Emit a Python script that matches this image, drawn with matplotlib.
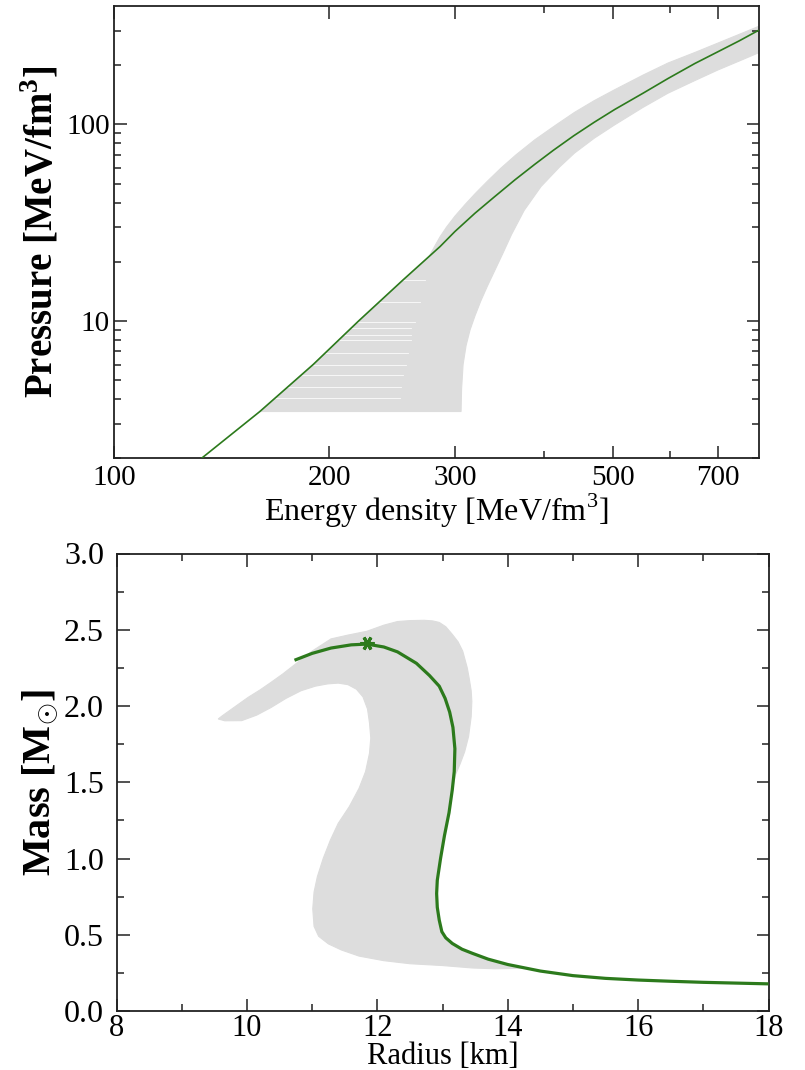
import numpy as np
import matplotlib
matplotlib.use('Agg')
import matplotlib.pyplot as plt
from matplotlib.patches import Polygon
from matplotlib.ticker import FixedLocator, NullFormatter, FixedFormatter, MultipleLocator, FormatStrFormatter

plt.rcParams['font.family'] = ['Liberation Serif', 'DejaVu Serif']
plt.rcParams['mathtext.fontset'] = 'custom'
plt.rcParams['mathtext.rm'] = 'Liberation Serif'
plt.rcParams['mathtext.bf'] = 'Liberation Serif:bold'

# ---------------- data: EOS (top panel) ----------------
eos_energy = [132.6, 160, 190, 220, 254, 286, 300, 320, 340, 364, 388, 412, 440, 470, 502,
              550, 596, 650, 700, 750, 797]
eos_pressure = [2.0, 3.46, 6.0, 10.0, 16.2, 23.9, 28.5, 35.3, 42.5, 52.2, 62.6, 73.8, 87.5,
                102.5, 119, 144, 171, 204, 234, 266, 300]

# envelope of the grey family of EOS: lower/right edge ...
band_lower_e = [160, 306, 306.5, 308, 311, 315, 320, 326, 333, 341, 350, 360, 375, 396,
                420, 441, 470, 502, 550, 596, 650, 700, 750, 800]
band_lower_p = [3.46, 3.46, 4.5, 6.0, 7.5, 9.0, 10.6, 12.6, 15.0, 18.0, 22.0, 27.5, 36.5, 48.3,
                60.5, 71.4, 85, 99.4, 122, 144, 167, 189, 210, 232]
# ... and upper edge (from the right border back to the green curve)
band_upper_e = [800, 750, 700, 650, 596, 550, 502, 470, 441, 415, 388, 365, 348, 333, 320,
                310, 300, 292, 286, 282, 276]
band_upper_p = [316, 287, 259, 232, 205, 178, 150, 132, 115, 99, 83.4, 69.8, 59.9, 51.3, 44.3,
                39.1, 34.1, 30, 26.8, 24.5, 21.2]

# visible gaps between plateau (phase transition) lines
plateau_p = [16.2, 12.5, 9.92, 9.18, 8.49, 8.0, 6.9, 5.97, 5.3, 4.63, 4.05]
plateau_end_e = [272, 268, 263.6, 260.4, 260.4, 260.4, 258, 256.6, 254, 252.5, 251]

# ---------------- data: mass-radius (bottom panel) ----------------
mr_radius = [18.0, 17.5, 17.0, 16.5, 16.0, 15.5, 15.0, 14.5, 14.0, 13.7, 13.46, 13.3, 13.15,
             13.05, 12.99, 12.95, 12.92, 12.91, 12.92, 12.97, 13.03, 13.1, 13.15, 13.18, 13.19,
             13.16, 13.11, 13.04, 12.95, 12.8, 12.6, 12.31, 12.1, 11.84, 11.6, 11.29, 11.0, 10.73]
mr_mass = [0.178, 0.183, 0.188, 0.195, 0.203, 0.214, 0.232, 0.262, 0.305, 0.34, 0.378, 0.405,
           0.443, 0.48, 0.52, 0.596, 0.68, 0.77, 0.857, 1.0, 1.15, 1.3, 1.45, 1.57, 1.72,
           1.86, 1.96, 2.05, 2.13, 2.2, 2.28, 2.355, 2.387, 2.406, 2.401, 2.38, 2.345, 2.30]
max_radius = 11.84
max_mass = 2.41

mr_band_r = [9.56, 9.66, 9.92, 10.15, 10.37, 10.6, 10.83, 11.05, 11.24, 11.4, 11.55, 11.68,
             11.78, 11.85, 11.88, 11.9, 11.88, 11.82, 11.72, 11.57, 11.40, 11.28, 11.17, 11.08,
             11.03, 11.01, 11.03, 11.1, 11.25, 11.45, 11.72, 12.1, 12.5, 13.0, 13.46, 13.8,
             14.1, 14.3,
             14.0, 13.7, 13.46, 13.3, 13.15, 13.05, 12.99, 12.95, 12.92, 12.91, 12.92, 12.97,
             13.03, 13.1, 13.15, 13.2,
             13.27, 13.34, 13.4, 13.44, 13.45, 13.44, 13.41, 13.38, 13.31, 13.24, 13.15, 13.05,
             12.95, 12.85, 12.72, 12.5, 12.31, 12.1, 11.84, 11.55, 11.29, 11.0, 10.73, 10.55,
             10.37, 10.2, 10.02, 9.8, 9.62]
mr_band_m = [1.915, 1.903, 1.904, 1.94, 1.99, 2.05, 2.10, 2.13, 2.145, 2.15, 2.14, 2.11,
             2.06, 1.98, 1.89, 1.79, 1.69, 1.57, 1.46, 1.34, 1.23, 1.12, 1.00, 0.88,
             0.78, 0.67, 0.555, 0.49, 0.44, 0.40, 0.36, 0.33, 0.31, 0.298, 0.282, 0.277,
             0.279, 0.281,
             0.305, 0.34, 0.378, 0.405, 0.443, 0.48, 0.52, 0.596, 0.68, 0.77, 0.857, 1.0,
             1.15, 1.3, 1.45, 1.55,
             1.62, 1.7, 1.8, 1.93, 2.03, 2.10, 2.18, 2.25, 2.36, 2.42, 2.47, 2.52,
             2.548, 2.558, 2.562, 2.56, 2.554, 2.53, 2.49, 2.465, 2.44, 2.36, 2.27, 2.21,
             2.155, 2.105, 2.057, 1.99, 1.935]

GREY = '#dddddd'
GREEN = '#2c7a1c'

fig = plt.figure(figsize=(8.05, 10.7), dpi=100)
W, H = 805.0, 1070.0
ax1 = fig.add_axes([114 / W, 1 - 458.3 / H, (759.3 - 114) / W, (458.3 - 6) / H])
ax2 = fig.add_axes([116.5 / W, 1 - 1011 / H, (768.5 - 116.5) / W, (1011 - 553.5) / H])

# ---------------- top panel ----------------
ax1.set_xscale('log')
ax1.set_yscale('log')
ax1.set_xlim(100, 800)
ax1.set_ylim(2, 400)

ge = np.array(eos_energy)
gp = np.array(eos_pressure)
sel = (ge >= band_lower_e[0]) & (ge < band_upper_e[-1])
poly_e = list(band_lower_e) + list(band_upper_e) + list(ge[sel][::-1])
poly_p = list(band_lower_p) + list(band_upper_p) + list(gp[sel][::-1])
band1 = Polygon(np.column_stack([poly_e, poly_p]), closed=True, facecolor=GREY,
                edgecolor=GREY, lw=0.8, zorder=1)
ax1.add_patch(band1)
for p, e_end in zip(plateau_p, plateau_end_e):
    ln, = ax1.plot([100, e_end], [p, p], color='white', lw=0.6, alpha=0.9, zorder=2)
    ln.set_clip_path(band1)

ax1.plot(eos_energy, eos_pressure, color=GREEN, lw=1.2, zorder=3)

ax1.xaxis.set_major_locator(FixedLocator([100, 200, 300, 500, 700]))
ax1.xaxis.set_major_formatter(FixedFormatter(['100', '200', '300', '500', '700']))
ax1.xaxis.set_minor_locator(FixedLocator([400, 600]))
ax1.xaxis.set_minor_formatter(NullFormatter())
ax1.yaxis.set_major_locator(FixedLocator([10, 100]))
ax1.yaxis.set_major_formatter(FixedFormatter(['10', '100']))
ax1.yaxis.set_minor_locator(FixedLocator([2, 3, 4, 5, 6, 7, 8, 9, 20, 30, 40, 50, 60, 70, 80, 90, 200, 300]))
ax1.yaxis.set_minor_formatter(NullFormatter())
ax1.set_xlabel('Energy density [MeV/fm$^{3}$]', fontsize=23)
ax1.set_ylabel('Pressure [MeV/fm$^{\\mathbf{3}}$]', fontsize=28, fontweight='bold')
ax1.xaxis.set_label_coords(0.5, -0.0745)
ax1.yaxis.set_label_coords(-0.0806, 0.5)

# ---------------- bottom panel ----------------
ax2.set_xlim(8, 18)
ax2.set_ylim(0, 3)
band2 = Polygon(np.column_stack([mr_band_r, mr_band_m]), closed=True, facecolor=GREY,
                edgecolor=GREY, lw=0.8, zorder=1)
ax2.add_patch(band2)
ax2.plot(mr_radius, mr_mass, color=GREEN, lw=2.3, zorder=3, solid_capstyle='butt')
ax2.plot([max_radius], [max_mass], marker=(6, 2, 90), color=GREEN, ms=10, mew=2.2, zorder=4)

ax2.xaxis.set_major_locator(MultipleLocator(2))
ax2.xaxis.set_minor_locator(MultipleLocator(1))
ax2.yaxis.set_major_locator(MultipleLocator(0.5))
ax2.yaxis.set_minor_locator(MultipleLocator(0.25))
ax2.yaxis.set_major_formatter(FormatStrFormatter('%.1f'))
ax2.xaxis.set_major_formatter(FormatStrFormatter('%d'))
ax2.set_xlabel('Radius [km]', fontsize=22)
ax2.set_ylabel('Mass [M$_{\\mathbf{\\odot}}$]', fontsize=29, fontweight='bold')
ax2.xaxis.set_label_coords(0.5, -0.0678)
ax2.yaxis.set_label_coords(-0.0868, 0.5)

for ax in (ax1, ax2):
    for s in ax.spines.values():
        s.set_linewidth(1.3)
        s.set_color('#222222')
    ax.tick_params(which='both', direction='in', top=True, right=True,
                   width=1.1, color='#222222')
    ax.tick_params(which='major', length=9)
    ax.tick_params(which='minor', length=5)

ax1.tick_params(axis='x', labelsize=21, pad=5)
ax1.tick_params(axis='y', labelsize=21, pad=3)
ax2.tick_params(axis='x', labelsize=22, pad=2)
ax2.tick_params(axis='y', labelsize=23, pad=9)

fig.savefig('out.png', dpi=100)
